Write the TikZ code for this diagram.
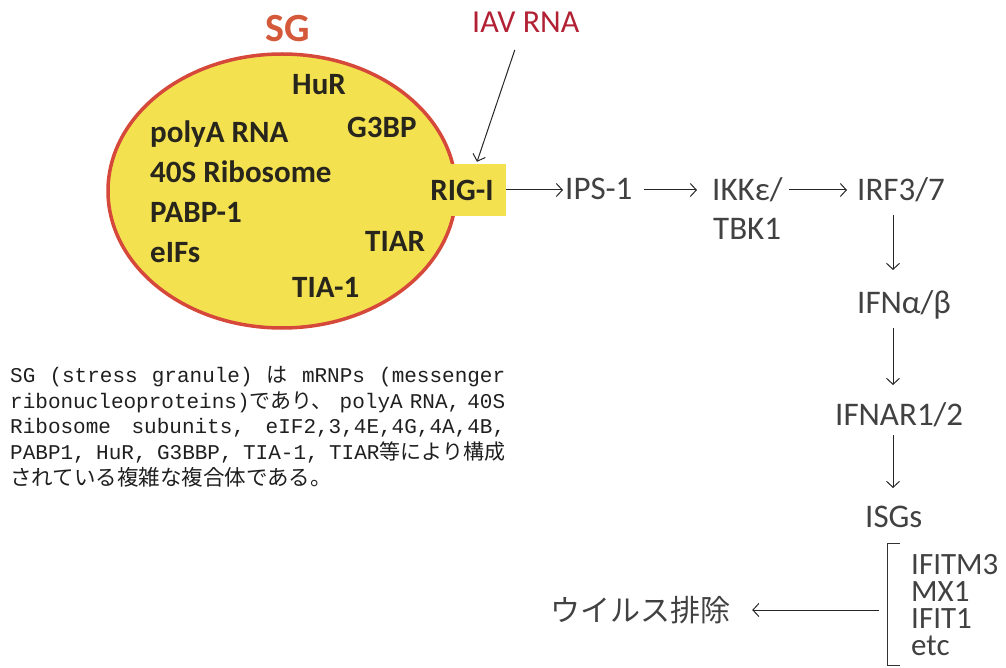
\documentclass[tikz,border=0pt]{standalone}
\usepackage{fontspec}
\setmainfont{Carlito}
\newfontfamily\jp{Noto Sans CJK JP}
\newfontfamily\mono{Liberation Mono}
\usetikzlibrary{arrows.meta,shapes.geometric,calc}
\definecolor{sgyellow}{RGB}{243,225,80}
\definecolor{sgred}{RGB}{214,72,58}
\definecolor{sgtext}{RGB}{212,88,58}
\definecolor{iavred}{RGB}{178,32,52}
\definecolor{darktxt}{RGB}{40,38,28}
\definecolor{graytxt}{RGB}{65,65,65}
\begin{document}
\begin{tikzpicture}[x=1pt,y=-1pt,
  inlabel/.style={font=\fontsize{31}{31}\selectfont\bfseries, text=darktxt, inner sep=0pt, anchor=base west},
  pathlabel/.style={font=\fontsize{33}{33}\selectfont, text=graytxt, inner sep=0pt, anchor=base west},
  arr/.style={-{Straight Barb[length=6pt,width=13pt]}, line width=1pt, draw=black!85},
  para/.style={inner sep=0pt, anchor=base west, font=\mono\fontsize{21}{21}\selectfont, text=black!88}
]
\useasboundingbox (0,0) rectangle (1006,668);

% stress granule
\node (sg) [ellipse, draw=sgred, fill=sgyellow, line width=3.5pt, minimum width=348pt, minimum height=274pt, inner sep=0pt] at (282,191) {};
\node (rig) [fill=sgyellow, minimum width=88pt, minimum height=52pt, inner sep=0pt, font=\fontsize{31}{31}\selectfont\bfseries, text=darktxt] at (462,190) {RIG-I\hspace{4pt}};

\node (sglabel) [font=\fontsize{40}{40}\selectfont\bfseries, text=sgtext, inner sep=0pt, anchor=base west] at (265,42) {SG};
\node (iav) [font=\fontsize{32}{32}\selectfont, text=iavred, inner sep=0pt, anchor=base west] at (472,33) {IAV RNA};

\node[inlabel] (hur) at (292,95) {HuR};
\node[inlabel] (g3bp) at (347,138) {G3BP};
\node[inlabel] (polya) at (150,143) {polyA RNA};
\node[inlabel] (ribo) at (150,183) {40S Ribosome};
\node[inlabel] (pabp) at (150,223) {PABP-1};
\node[inlabel] (eifs) at (150,263) {eIFs};
\node[inlabel] (tiar) at (365,252) {TIAR};
\node[inlabel] (tia) at (292,298) {TIA-1};

% pathway
\coordinate (row) at (0,190);
\coordinate (col) at (893,0);
\node[pathlabel] (ips) at (565,200) {IPS-1};
\node[pathlabel] (ikk) at (712,201) {IKKε/};
\node[pathlabel] (tbk) at (713,240) {TBK1};
\node[pathlabel] (irf) at (857,201) {IRF3/7};
\node[pathlabel] (ifn) at (857,313) {IFNα/β};
\node[pathlabel] (ifnar) at (835,425) {IFNAR1/2};
\node[pathlabel] (isgs) at (865,527) {ISGs};

\draw[arr] ($(iav.base)+(-11,17)$) -- ($(rig.north)+(15,-2)$);
\draw[arr] (rig.east |- row) -- ($(ips.west |- row)+(-2,0)$);
\draw[arr] ($(ips.east |- row)+(11,0)$) -- ($(ikk.west |- row)+(-15,0)$);
\draw[arr] ($(ikk.east |- row)+(6,0)$) -- ($(irf.west |- row)+(-10,0)$);
\draw[arr] ($(irf.base -| col)+(0,14)$) -- ($(ifn.base -| col)+(0,-43)$);
\draw[arr] ($(ifn.base -| col)+(0,15)$) -- ($(ifnar.base -| col)+(0,-40)$);
\draw[arr] ($(ifnar.base -| col)+(0,10)$) -- ($(isgs.base -| col)+(0,-39)$);

% ISG list
\node (list) [font=\fontsize{31}{27}\selectfont, text=graytxt, inner sep=0pt, anchor=north west, align=left] at (911,554) {IFITM3\\MX1\\IFIT1\\etc};
\draw[line width=1pt, draw=black!80] (900,543) -- (887,543) -- (887,665) -- (900,665);
\coordinate (brk) at (879,610);
\node (virus) [font=\jp\fontsize{30}{30}\selectfont, text=graytxt, inner sep=0pt] at (640,610) {ウイルス排除};
\draw[arr] (brk) -- ($(virus.east)+(22,0)$);

% paragraph
\node[para] (p1) at (10,382) {\makebox[495pt][l]{SG\hfill(stress\hfill granule)\hfill{\jp は}\hfill mRNPs\hfill(messenger}};
\node[para] (p2) at (10,408) {\makebox[495pt][l]{ribonucleoproteins){\jp であり、}\hfill polyA\hfill RNA,\hfill 40S}};
\node[para] (p3) at (10,433) {\makebox[495pt][l]{Ribosome\hfill subunits,\hfill eIF2,3,4E,4G,4A,4B,}};
\node[para] (p4) at (10,459) {\makebox[495pt][l]{PABP1,\hfill HuR,\hfill G3BBP,\hfill TIA-1,\hfill TIAR{\jp 等により構成}}};
\node[para] (p5) at (10,485) {{\jp\fontsize{21.5}{21.5}\selectfont されている複雑な複合体である。}};
\end{tikzpicture}
\end{document}
